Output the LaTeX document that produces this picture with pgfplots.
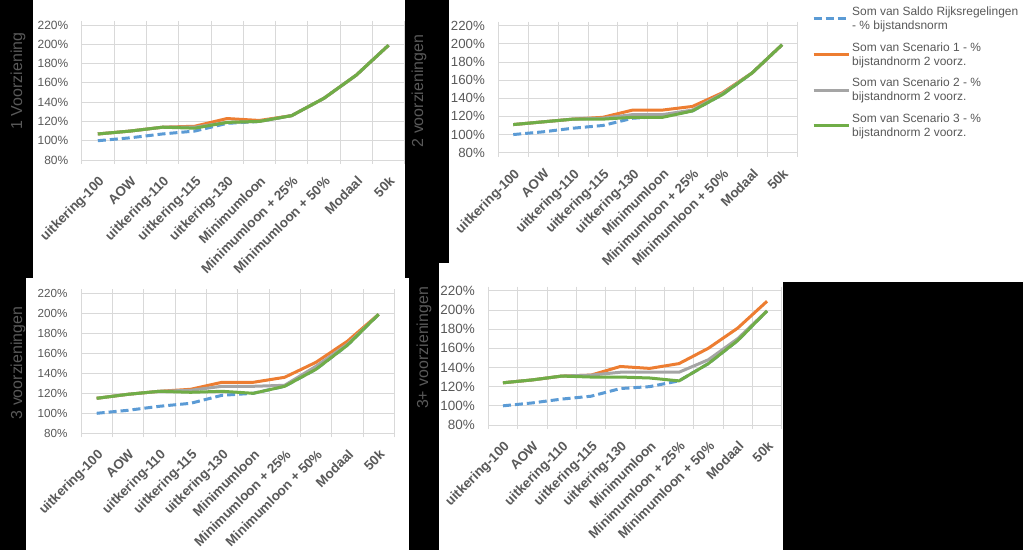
\documentclass[border=0pt]{standalone}
\usepackage{fontspec}
\setmainfont{Liberation Sans}
\usepackage{pgfplots}
\pgfplotsset{compat=1.18}
\usepackage{pgfplotstable}
\definecolor{cblue}{HTML}{5B9BD5}
\definecolor{corange}{HTML}{ED7D31}
\definecolor{cgray}{HTML}{A5A5A5}
\definecolor{cgreen}{HTML}{70AD47}
\definecolor{gridc}{HTML}{D9D9D9}
\definecolor{txt}{HTML}{595959}

\pgfplotstableread{
x blue s1 s2 s3
1 100 107 107 107
2 103 110 110 110
3 107 114 114 114
4 110 115 114 113
5 118 123 119 119
6 120 121 120 120
7 126 126 126 126
8 144 144 144 144
9 168 168 168 168
10 199 199 199 199
}\pone
\pgfplotstableread{
x blue s1 s2 s3
1 100 111 111 111
2 103 114 114 114
3 107 117 117 117
4 110 119 118 117
5 118 127 122 119
6 120 127 122 119
7 126 131 127 126
8 144 146 145 144
9 168 168 168 168
10 199 199 199 199
}\ptwo
\pgfplotstableread{
x blue s1 s2 s3
1 100 115 115 115
2 103 119 119 119
3 107 122 122 122
4 110 124 123 121
5 118 131 127 122
6 120 131 127 120
7 127 136 128 127
8 144 151 147 144
9 168 172 169 168
10 199 199 199 199
}\pthree
\pgfplotstableread{
x blue s1 s2 s3
1 100 124 124 124
2 103 127 127 127
3 107 131 131 131
4 110 132 132 130
5 118 141 135 130
6 120 139 135 129
7 126 144 135 126
8 144 160 148 144
9 168 181 170 168
10 199 209 199 199
}\pfour

\pgfplotsset{
  panel/.style={
    scale only axis,
    xmin=0.5, xmax=10.5, ymin=80, ymax=220,
    xtick={1,...,10},
    xticklabels={uitkering-100,AOW,uitkering-110,uitkering-115,uitkering-130,Minimumloon,Minimumloon + 25\%,Minimumloon + 50\%,Modaal,50k},
    minor xtick={0.5,1.5,...,10.5},
    ytick={80,100,...,220},
    yticklabels={80\%,100\%,120\%,140\%,160\%,180\%,200\%,220\%},
    xminorgrids, ymajorgrids,
    grid style={draw=gridc, line width=0.75bp},
    minor grid style={draw=gridc, line width=0.75bp},
    axis line style={draw=gridc, line width=0.75bp},
    major x tick style={draw=none},
    minor x tick style={draw=gridc, line width=0.75bp},
    ytick style={draw=none},
    tick align=outside, minor tick length=4bp,
    xticklabel shift=9.5bp,
    xticklabel style={rotate=45, anchor=north east, inner sep=1bp, text=txt, font=\fontsize{13.5}{13.5}\selectfont\bfseries},
    yticklabel style={anchor=east, inner sep=0pt, xshift=-9bp, text=txt, font=\fontsize{#1}{#1}\selectfont},
    line join=round,
  },
  sblue/.style={cblue, line width=3bp, dash pattern=on 8bp off 4bp},
  sorange/.style={corange, line width=3bp},
  sgray/.style={cgray, line width=3bp},
  sgreen/.style={cgreen, line width=3bp},
}

\begin{document}
\begin{tikzpicture}
\useasboundingbox (0,0) rectangle (1023bp,550bp);
\fill[white] (0,0) rectangle (1023bp,550bp);

% Panel 1
\begin{axis}[panel=12, at={(81.7bp,390bp)}, anchor=south west, width=323bp, height=135bp]
\addplot[sblue] table[x=x,y=blue]{\pone};
\addplot[sorange] table[x=x,y=s1]{\pone};
\addplot[sgray] table[x=x,y=s2]{\pone};
\addplot[sgreen] table[x=x,y=s3]{\pone};
\end{axis}

% Panel 2 (with legend)
\begin{axis}[panel=13.3, at={(498.3bp,397.3bp)}, anchor=south west, width=298.7bp, height=127bp,
  legend style={at={(1.05,1.165)}, anchor=north west, draw=none, fill=none,
    font=\fontsize{12}{14}\selectfont, text=txt, cells={align=left, anchor=west},
    row sep=7.5bp, inner sep=0pt},
  legend image code/.code={\draw[#1] (0bp,0bp) -- (35bp,0bp);}]
\addplot[sblue] table[x=x,y=blue]{\ptwo};
\addlegendentry{Som van Saldo Rijksregelingen\\- \% bijstandsnorm}
\addplot[sorange] table[x=x,y=s1]{\ptwo};
\addlegendentry{Som van Scenario 1 - \%\\bijstandnorm 2 voorz.}
\addplot[sgray] table[x=x,y=s2]{\ptwo};
\addlegendentry{Som van Scenario 2 - \%\\bijstandnorm 2 voorz.}
\addplot[sgreen] table[x=x,y=s3]{\ptwo};
\addlegendentry{Som van Scenario 3 - \%\\bijstandnorm 2 voorz.}
\end{axis}

% Panel 3
\begin{axis}[panel=11.7, at={(81bp,116.7bp)}, anchor=south west, width=313.3bp, height=140bp]
\addplot[sblue] table[x=x,y=blue]{\pthree};
\addplot[sorange] table[x=x,y=s1]{\pthree};
\addplot[sgray] table[x=x,y=s2]{\pthree};
\addplot[sgreen] table[x=x,y=s3]{\pthree};
\end{axis}

% Panel 4
\begin{axis}[panel=13.5, at={(488.3bp,125bp)}, anchor=south west, width=293.4bp, height=134.3bp]
\addplot[sblue] table[x=x,y=blue]{\pfour};
\addplot[sorange] table[x=x,y=s1]{\pfour};
\addplot[sgray] table[x=x,y=s2]{\pfour};
\addplot[sgreen] table[x=x,y=s3]{\pfour};
\end{axis}

% black screenshot background regions
\fill[black] (0bp,272bp) rectangle (33bp,550bp);
\fill[black] (0bp,0bp) rectangle (25.7bp,272bp);
\fill[black] (404.5bp,287bp) rectangle (448.5bp,550bp);
\fill[black] (404.5bp,272bp) rectangle (438.5bp,287bp);
\fill[black] (408.5bp,0bp) rectangle (438.5bp,272bp);
\fill[black] (783bp,0bp) rectangle (1023bp,268bp);

% axis titles
\node[rotate=90, text=txt, font=\fontsize{16}{18}\selectfont] at (18bp,469bp) {1 Voorziening};
\node[rotate=90, text=txt, font=\fontsize{16}{18}\selectfont] at (419bp,459bp) {2 voorzieningen};
\node[rotate=90, text=txt, font=\fontsize{16}{18}\selectfont] at (18bp,187bp) {3 voorzieningen};
\node[rotate=90, text=txt, font=\fontsize{16}{18}\selectfont] at (424bp,202bp) {3+ voorzieningen};
\end{tikzpicture}
\end{document}
